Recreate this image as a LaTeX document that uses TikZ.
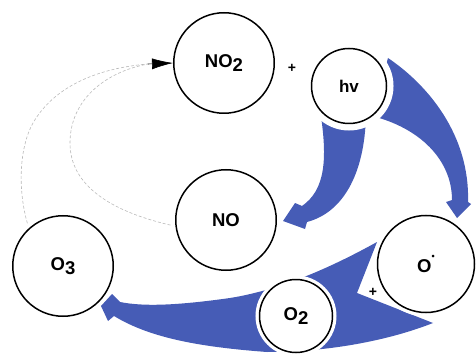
\documentclass[tikz,border=0pt]{standalone}
\usepackage{fontspec}
\setmainfont{Liberation Sans}
\usetikzlibrary{arrows.meta}
\definecolor{flowblue}{RGB}{70,92,182}
\definecolor{dashgray}{RGB}{185,185,185}
\pgfdeclarelayer{background}
\pgfsetlayers{background,main}
\newcommand\subs[1]{\raisebox{-0.45ex}{#1}}
\begin{document}
\begin{tikzpicture}[x=1pt,y=-1pt,
  species/.style={circle, draw=black, line width=1.5pt, fill=white, inner sep=0pt,
    font=\fontsize{18.5}{20}\selectfont\bfseries, preaction={draw=white, line width=#1}},
  species/.default=8pt,
  plus/.style={font=\fontsize{14}{14}\selectfont\bfseries, inner sep=0pt},
  flow/.style={fill=flowblue, draw=none},
  regen/.style={draw=dashgray, line width=0.6pt, dash pattern=on 3pt off 2pt},
  tip/.style={draw=black, line width=0.6pt, -{Latex[length=21pt,width=11pt]}}]
\useasboundingbox (0,0) rectangle (476,358);

\node[species, minimum size=100.5pt] (no2) at (224,63) {NO\subs{2}};
\node[species=14pt, minimum size=75pt] (hv) at (349,86) {\fontsize{17}{18}\selectfont hv};
\node[species, minimum size=100.5pt] (no) at (226,220) {NO};
\node[species, minimum size=100.5pt] (o3) at (63,266) {O\subs{3}};
\node[species, minimum size=97pt] (orad) at (426,264) {O\raisebox{1.3ex}{\fontsize{9}{9}\selectfont•}};
\node[species=8pt, minimum size=73pt] (o2) at (296,316) {O\subs{2}};

\node[plus] (p1) at (292,68) {+};
\node[plus] (p2) at (373,292) {+};

\coordinate (ahead) at (148,64);

\begin{pgfonlayer}{background}
  % hv -> NO
  \path[flow] (320,110) .. controls (328,160) and (325,190) .. (302,206)
    -- (295,203) -- (283,221) -- (305,229) -- (307,222)
    .. controls (345,212) and (366,170) .. (366,110) -- cycle;
  % hv -> O.
  \path[flow] (388,58) .. controls (428,85) and (470,135) .. (468,202)
    -- (471,204) -- (457,218) -- (446,202) -- (452,200)
    .. controls (452,160) and (420,128) .. (372,116) -- cycle;
  % O2 + O. -> O3
  \path[flow] (120,302) -- (112,294) -- (101,306) -- (108,321) -- (114,316)
    .. controls (150,338) and (200,347) .. (267,352)
    .. controls (330,352) and (390,340) .. (433,323)
    -- (357,293) -- (377,242)
    .. controls (330,268) and (280,290) .. (230,298)
    .. controls (180,305) and (145,307) .. (120,302) -- cycle;
  % regeneration of NO2 (dashed)
  \draw[regen] (o3.132) .. controls (18,195) and (18,150) .. (33,123)
    .. controls (55,85) and (100,68) .. (ahead);
  \draw[regen] (no.187) .. controls (110,212) and (70,185) .. (70,143)
    .. controls (70,100) and (105,72) .. (ahead);
\end{pgfonlayer}
\draw[tip] (ahead) -- (no2.west);
\end{tikzpicture}
\end{document}
